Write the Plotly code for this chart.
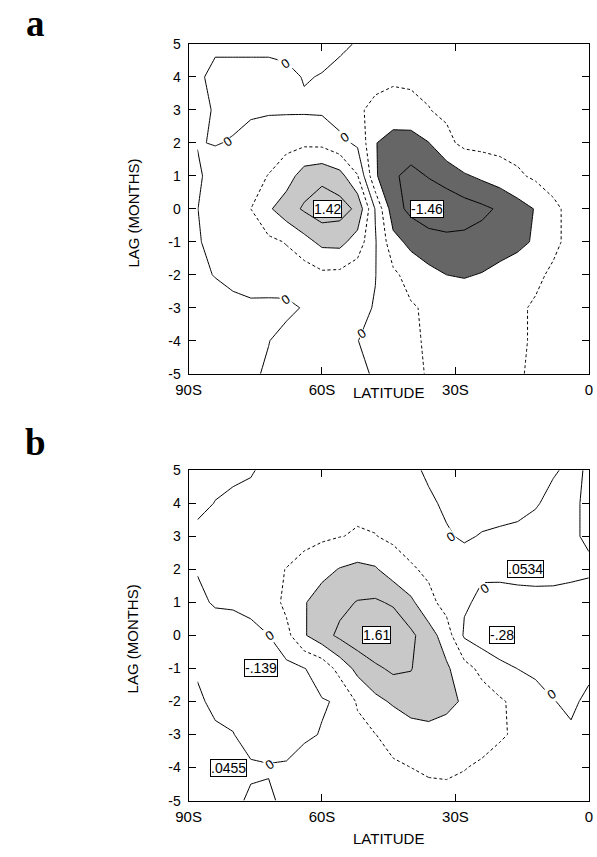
import plotly.graph_objects as go

# ---------------- grid ----------------
lat_cols = [-88, -84, -80, -76, -72, -68, -64, -60, -56, -52, -48, -44,
            -40, -36, -32, -28, -24, -20, -16, -12, -8, -4, 0]
lags = [-5, -4, -3, -2, -1, 0, 1, 2, 3, 4, 5]

# ---------------- panel a values (one list per lag) ----------------
a_lag_m5 = [-0.12, -0.12, -0.10, -0.06, 0.05, 0.12, 0.15, 0.15, 0.12, 0.10, -0.05, -0.22, -0.34, -0.42, -0.48, -0.50, -0.50, -0.48, -0.43, -0.35, -0.30, -0.26, -0.24]
a_lag_m4 = [-0.12, -0.12, -0.10, -0.08, -0.01, 0.13, 0.15, 0.12, 0.07, 0.01, -0.19, -0.30, -0.36, -0.43, -0.50, -0.52, -0.52, -0.50, -0.45, -0.36, -0.30, -0.26, -0.24]
a_lag_m3 = [-0.10, -0.10, -0.08, -0.05, -0.07, -0.09, 0.03, 0.10, 0.12, 0.08, -0.02, -0.20, -0.36, -0.46, -0.52, -0.55, -0.53, -0.50, -0.45, -0.36, -0.30, -0.25, -0.23]
a_lag_m2 = [-0.05, 0.01, 0.08, 0.12, 0.16, 0.22, 0.20, 0.32, 0.30, 0.18, 0.01, -0.32, -0.55, -0.70, -0.80, -0.83, -0.78, -0.68, -0.58, -0.47, -0.34, -0.28, -0.25]
a_lag_m1 = [-0.02, 0.07, 0.16, 0.24, 0.32, 0.42, 0.66, 0.90, 0.92, 0.62, 0.03, -0.67, -0.90, -1.02, -1.10, -1.10, -1.05, -0.98, -0.90, -0.75, -0.48, -0.30, -0.26]
a_lag_0 = [-0.005, 0.15, 0.27, 0.40, 0.74, 1.03, 1.25, 1.42, 1.36, 1.12, -0.03, -1.04, -1.30, -1.46, -1.44, -1.38, -1.28, -1.15, -0.96, -0.78, -0.48, -0.30, -0.25]
a_lag_p1 = [-0.04, 0.10, 0.16, 0.30, 0.41, 0.60, 1.00, 1.10, 0.95, 0.42, -0.75, -1.15, -1.30, -1.18, -1.05, -0.85, -0.72, -0.60, -0.46, -0.33, -0.25, -0.20, -0.18]
a_lag_p2 = [0.01, -0.01, 0.015, 0.12, 0.25, 0.30, 0.32, 0.30, 0.11, -0.07, -0.78, -1.00, -1.00, -0.81, -0.50, -0.30, -0.28, -0.26, -0.25, -0.22, -0.20, -0.18, -0.17]
a_lag_p3 = [0.10, -0.03, -0.05, -0.05, -0.05, -0.05, -0.05, -0.06, -0.20, -0.37, -0.45, -0.50, -0.48, -0.41, -0.33, -0.28, -0.25, -0.22, -0.20, -0.18, -0.16, -0.14, -0.13]
a_lag_p4 = [0.06, -0.09, -0.09, -0.09, -0.09, -0.09, 0.02, -0.015, -0.08, -0.20, -0.34, -0.36, -0.35, -0.33, -0.30, -0.27, -0.25, -0.22, -0.20, -0.18, -0.15, -0.13, -0.12]
a_lag_p5 = [0.05, 0.06, 0.06, 0.06, 0.06, 0.11, 0.12, 0.10, 0.05, -0.02, -0.12, -0.20, -0.25, -0.27, -0.27, -0.25, -0.23, -0.21, -0.19, -0.17, -0.15, -0.12, -0.10]

# ---------------- panel b values (one list per lag) ----------------
b_lag_m5 = [0.03, 0.035, 0.03, -0.02, -0.02, 0.03, 0.06, 0.10, 0.14, 0.19, 0.24, 0.28, 0.31, 0.33, 0.33, 0.31, 0.27, 0.22, 0.17, 0.12, 0.08, 0.05, 0.04]
b_lag_m4 = [0.04, 0.045, 0.0455, 0.02, 0.01, 0.015, 0.08, 0.13, 0.18, 0.24, 0.30, 0.36, 0.40, 0.43, 0.44, 0.41, 0.36, 0.30, 0.24, 0.18, 0.12, 0.08, 0.07]
b_lag_m3 = [0.03, 0.03, 0.005, -0.06, -0.07, -0.06, -0.03, 0.01, 0.14, 0.27, 0.395, 0.50, 0.62, 0.67, 0.64, 0.58, 0.50, 0.43, 0.36, 0.28, 0.20, 0.04, 0.10]
b_lag_m2 = [0.03, -0.04, -0.05, -0.08, -0.10, -0.09, -0.06, -0.015, 0.02, 0.45, 0.70, 0.85, 0.98, 1.00, 0.90, 0.75, 0.60, 0.45, 0.30, 0.20, 0.01, -0.05, 0.06]
b_lag_m1 = [-0.02, -0.10, -0.12, -0.139, -0.135, -0.10, -0.01, 0.12, 0.55, 0.91, 1.12, 1.28, 1.22, 0.95, 0.86, 0.55, 0.29, 0.10, -0.005, -0.10, -0.12, -0.10, -0.06]
b_lag_0 = [-0.08, -0.10, -0.10, -0.07, -0.003, 0.28, 0.76, 1.05, 1.28, 1.45, 1.61, 1.50, 1.28, 0.98, 0.60, -0.05, -0.20, -0.28, -0.26, -0.20, -0.15, -0.12, -0.12]
b_lag_p1 = [-0.04, 0.02, 0.03, 0.07, 0.20, 0.50, 0.77, 0.98, 1.10, 1.22, 1.25, 1.15, 0.88, 0.52, 0.25, 0.04, -0.06, -0.07, -0.06, -0.05, -0.05, -0.07, -0.10]
b_lag_p2 = [0.01, 0.05, 0.12, 0.20, 0.30, 0.41, 0.55, 0.68, 0.82, 0.90, 0.84, 0.60, 0.45, 0.32, 0.22, 0.10, 0.04, 0.045, 0.054, 0.053, 0.05, 0.045, 0.035]
b_lag_p3 = [0.05, 0.06, 0.10, 0.14, 0.18, 0.22, 0.28, 0.34, 0.39, 0.43, 0.41, 0.33, 0.22, 0.12, 0.02, -0.025, 0.013, 0.03, 0.04, 0.045, 0.045, 0.03, -0.03]
b_lag_p4 = [-0.05, 0.005, 0.04, 0.07, 0.14, 0.20, 0.25, 0.30, 0.32, 0.33, 0.30, 0.22, 0.12, 0.03, -0.03, -0.08, -0.08, -0.07, -0.05, -0.01, 0.03, 0.04, -0.04]
b_lag_p5 = [-0.06, -0.05, -0.04, -0.02, 0.06, 0.06, 0.10, 0.13, 0.15, 0.16, 0.14, 0.10, 0.04, -0.03, -0.07, -0.09, -0.09, -0.08, -0.06, -0.04, -0.01, 0.02, -0.01]

# ---------------- labels ----------------
x_tick_vals = [-90, -60, -30, 0]
x_tick_text = ["90S", "60S", "30S", "0"]
y_tick_vals = [-5, -4, -3, -2, -1, 0, 1, 2, 3, 4, 5]
y_tick_text = ["-5", "-4", "-3", "-2", "-1", "0", "1", "2", "3", "4", "5"]

a_ext_text = ["1.42", "-1.46"]
a_ext_lat = [-58.8, -36.4]
a_ext_lag = [0.0, 0.0]
b_ext_text = ["1.61", "-.28", ".0534", "-.139", ".0455"]
b_ext_lat = [-47.8, -19.5, -14.2, -73.7, -81.1]
b_ext_lag = [0.0, 0.0, 2.0, -1.0, -4.0]

a_zero_lat = [-68.2, -81.2, -55.0, -68.2, -51.1]
a_zero_lag = [4.4, 2.04, 2.17, -2.75, -3.78]
b_zero_lat = [-71.8, -71.8, -31.0, -23.4, -8.4]
b_zero_lag = [0.0, -3.9, 3.0, 1.42, -1.78]

z_a = [a_lag_m5, a_lag_m4, a_lag_m3, a_lag_m2, a_lag_m1, a_lag_0,
       a_lag_p1, a_lag_p2, a_lag_p3, a_lag_p4, a_lag_p5]
z_b = [b_lag_m5, b_lag_m4, b_lag_m3, b_lag_m2, b_lag_m1, b_lag_0,
       b_lag_p1, b_lag_p2, b_lag_p3, b_lag_p4, b_lag_p5]

LIGHT = "rgb(200,200,200)"
DARK = "rgb(102,102,102)"
FONT = "Liberation Sans, Arial, Helvetica, sans-serif"

fig = go.Figure()


def add_panel(z, xa, ya):
    # shading: region >= 0.8 light, region <= -0.8 dark (invalid region of constraint is shaded)
    fig.add_trace(go.Contour(
        x=lat_cols, y=lags, z=z, xaxis=xa, yaxis=ya,
        contours=dict(type="constraint", operation="<", value=0.8),
        fillcolor=LIGHT, line=dict(width=0, smoothing=0),
        showscale=False, hoverinfo="skip"))
    fig.add_trace(go.Contour(
        x=lat_cols, y=lags, z=z, xaxis=xa, yaxis=ya,
        contours=dict(type="constraint", operation=">", value=-0.8),
        fillcolor=DARK, line=dict(width=0, smoothing=0),
        showscale=False, hoverinfo="skip"))
    # dashed +/-0.4
    fig.add_trace(go.Contour(
        x=lat_cols, y=lags, z=z, xaxis=xa, yaxis=ya,
        contours=dict(start=-0.4, end=0.4, size=0.8, coloring="none"),
        line=dict(color="black", width=1, dash="3px,2.5px", smoothing=0),
        showscale=False, hoverinfo="skip"))
    # solid zero line
    fig.add_trace(go.Contour(
        x=lat_cols, y=lags, z=z, xaxis=xa, yaxis=ya,
        contours=dict(start=0, end=0, size=1, coloring="none"),
        line=dict(color="black", width=1, smoothing=0),
        showscale=False, hoverinfo="skip"))
    # solid 0.8 / 1.2 and -1.2 / -0.8
    for s, e in ((0.8, 1.2), (-1.2, -0.8)):
        fig.add_trace(go.Contour(
            x=lat_cols, y=lags, z=z, xaxis=xa, yaxis=ya,
            contours=dict(start=s, end=e, size=0.4, coloring="none"),
            line=dict(color="black", width=1, smoothing=0),
            showscale=False, hoverinfo="skip"))


add_panel(z_a, "x", "y")
add_panel(z_b, "x2", "y2")

ann = []


def boxed(texts, lats, lgs, xr, yr):
    for t, la, lg in zip(texts, lats, lgs):
        ann.append(dict(x=la, y=lg, xref=xr, yref=yr, text=t, showarrow=False,
                        font=dict(family=FONT, size=14, color="black"),
                        bgcolor="white", bordercolor="black", borderwidth=1,
                        borderpad=0))


def zeros(lats, lgs, xr, yr):
    for la, lg in zip(lats, lgs):
        ann.append(dict(x=la, y=lg, xref=xr, yref=yr, text="0", showarrow=False,
                        textangle=-35,
                        font=dict(family=FONT, size=13, color="black"),
                        bgcolor="white", borderpad=0))


zeros(a_zero_lat, a_zero_lag, "x", "y")
zeros(b_zero_lat, b_zero_lag, "x2", "y2")
boxed(a_ext_text, a_ext_lat, a_ext_lag, "x", "y")
boxed(b_ext_text, b_ext_lat, b_ext_lag, "x2", "y2")

W, H = 597, 857
# axis titles and panel letters (paper coordinates derived from pixel layout)
for yc in (209, 643):
    ann.append(dict(x=124 / W, y=1 - yc / H, xref="paper", yref="paper",
                    xanchor="center", yanchor="middle",
                    text="LAG (MONTHS)", textangle=-90, showarrow=False,
                    font=dict(family=FONT, size=15, color="black")))
for yc in (392, 846):
    ann.append(dict(x=386.7 / W, y=1 - yc / H, xref="paper", yref="paper",
                    xanchor="center", yanchor="middle",
                    text="LATITUDE", showarrow=False,
                    font=dict(family=FONT, size=15, color="black")))
for letter, yc in (("a", 16), ("b", 443)):
    ann.append(dict(x=23.3 / W, y=1 - yc / H, xref="paper", yref="paper",
                    xanchor="center", yanchor="middle",
                    text="<b>" + letter + "</b>", showarrow=False,
                    font=dict(family="Liberation Serif, Times New Roman, serif",
                              size=37, color="black")))

xdom = [180.7 / W, 592.7 / W]
ydom_a = [1 - 372.7 / H, 1 - 36.7 / H]
ydom_b = [1 - 807.7 / H, 1 - 471 / H]

xcommon = dict(range=[-90, 0], tickvals=x_tick_vals, ticktext=x_tick_text,
               ticks="inside", ticklen=7, tickcolor="black", tickwidth=1,
               showline=True, linecolor="black", linewidth=1, mirror="ticks",
               showgrid=False, zeroline=False, domain=xdom, ticklabelstandoff=2,
               tickfont=dict(family=FONT, size=15, color="black"))
ycommon = dict(range=[-5, 5], tickvals=y_tick_vals, ticktext=y_tick_text,
               ticks="inside", ticklen=7, tickcolor="black", tickwidth=1,
               showline=True, linecolor="black", linewidth=1, mirror="ticks",
               showgrid=False, zeroline=False, ticklabelstandoff=4,
               tickfont=dict(family=FONT, size=14, color="black"))

fig.update_layout(
    width=W, height=H, margin=dict(l=0, r=0, t=0, b=0),
    paper_bgcolor="white", plot_bgcolor="white", showlegend=False,
    xaxis=dict(**xcommon, anchor="y"),
    yaxis=dict(**ycommon, domain=ydom_a, anchor="x"),
    xaxis2=dict(**xcommon, anchor="y2"),
    yaxis2=dict(**ycommon, domain=ydom_b, anchor="x2"),
    annotations=ann,
)

fig.write_html(
    "out.html",
    config={"displayModeBar": False},
    post_script="document.body.style.margin='0';document.body.style.overflow='hidden';",
)
